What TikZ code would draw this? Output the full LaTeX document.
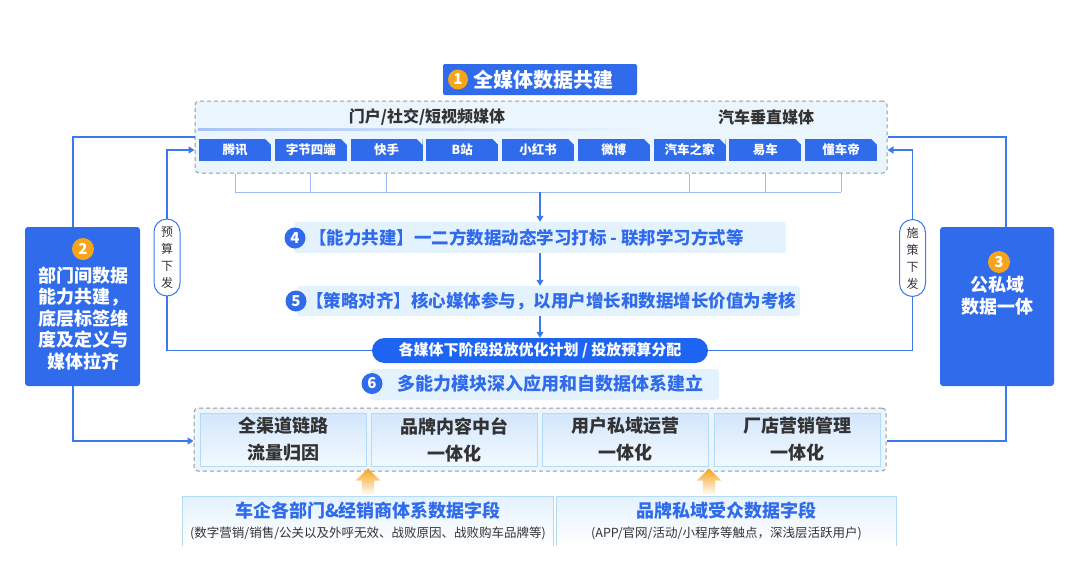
\documentclass[tikz,border=0pt]{standalone}
\usepackage{fontspec}
\setmainfont{Noto Sans CJK SC}
\usetikzlibrary{arrows.meta,shapes.arrows}

\definecolor{mainblue}{HTML}{2F6BEA}
\definecolor{pillblue}{HTML}{1D64F2}
\definecolor{linkblue}{HTML}{3C78EE}
\definecolor{busblue}{HTML}{9DBAF4}
\definecolor{lightbg}{HTML}{E4F2FE}
\definecolor{panelbg}{HTML}{EAF5FE}
\definecolor{modedge}{HTML}{B3DBF8}
\definecolor{numorange}{HTML}{F5A41C}
\definecolor{textdark}{HTML}{333333}
\definecolor{dashgray}{HTML}{999999}

\tikzset{
  panel/.style={draw=dashgray, dash pattern=on 4pt off 3pt, line width=1pt,
    fill=panelbg, rounded corners=4pt},
  titlebox/.style={fill=mainblue, rounded corners=2pt, minimum width=194pt,
    minimum height=31pt},
  titletext/.style={text=white, inner sep=0pt, font=\bfseries\fontsize{20}{24}\selectfont},
  numdot/.style={circle, fill=numorange, text=white, inner sep=0pt, minimum size=20pt,
    font=\bfseries\fontsize{15}{15}\selectfont},
  bluedot/.style={numdot, fill=mainblue, minimum size=21pt},
  headtext/.style={text=textdark, font=\bfseries\fontsize{16}{19}\selectfont},
  tab/.style={fill=mainblue, text=white, minimum width=72pt, minimum height=22pt,
    inner sep=0pt, font=\bfseries\fontsize{12.5}{15}\selectfont},
  capbox/.style={fill=lightbg, rounded corners=3pt, minimum height=31pt},
  captext/.style={text=mainblue, inner sep=0pt, anchor=west,
    font=\bfseries\fontsize{17.5}{21}\selectfont},
  pill/.style={fill=pillblue, text=white, rounded corners=12.5pt, minimum width=336pt,
    minimum height=25pt, font=\bfseries\fontsize{15}{18}\selectfont},
  sidebox/.style={fill=mainblue, rounded corners=3pt, minimum width=115pt,
    minimum height=159pt},
  sidetext/.style={text=white, align=center, inner sep=0pt,
    font=\bfseries\fontsize{18}{21.5}\selectfont},
  vlabel/.style={draw=linkblue, fill=white, line width=1pt, rounded corners=13pt,
    minimum width=26pt, minimum height=77pt, inner sep=0pt, align=center,
    text=textdark, font=\fontsize{12}{17}\selectfont},
  link/.style={draw=linkblue, line width=1.2pt},
  busline/.style={draw=busblue, line width=1pt},
  flow/.style={draw=linkblue, line width=1.2pt, -{Triangle[length=6pt,width=7pt]}},
  modbox/.style={top color=lightbg!90!linkblue, bottom color=panelbg!60!white,
    draw=modedge, line width=1pt, minimum width=166pt, minimum height=53pt,
    align=center, text=textdark, font=\bfseries\fontsize{18}{27}\selectfont},
  srcbox/.style={top color=lightbg, bottom color=white, minimum height=49pt},
  srctitle/.style={text=mainblue, inner sep=0pt, font=\bfseries\fontsize{18}{21}\selectfont},
  srcsub/.style={text=textdark, inner sep=0pt, font=\fontsize{12.5}{15}\selectfont},
  uparrow/.style={single arrow, shape border rotate=90, top color=numorange,
    bottom color=white, draw=none, inner sep=6pt, minimum height=27pt,
    single arrow head extend=6pt}
}

\begin{document}
\begin{tikzpicture}[x=1pt, y=-1pt]
\useasboundingbox (0,0) rectangle (1080,563);

% 1 all-media panel
\node[titlebox] (title) at (540,79.5) {};
\node[numdot] (n1) at (458,79.5) {1};
\node[titletext, anchor=west] (titletxt) at (473,79.5) {全媒体数据共建};

\node[panel, minimum width=692pt, minimum height=72pt] (media) at (541,137) {};
\node[headtext] (hdrA) at (427,117) {门户/社交/短视频媒体};
\node[headtext] (hdrB) at (766,117) {汽车垂直媒体};
\shade[left color=linkblue!45, middle color=linkblue!60, right color=panelbg]
  (198,128) rectangle (640,130);
\shade[left color=panelbg, middle color=linkblue!55, right color=panelbg]
  (655,128) rectangle (880,130);

\foreach \lbl [count=\i from 0] in {腾讯,字节四端,快手,B站,小红书,微博,汽车之家,易车,懂车帝} {
  \node[tab] (tab\i) at (235+75.75*\i,150) {\lbl};
  \fill[panelbg] ([xshift=-6pt]tab\i.north east) -- (tab\i.north east)
    -- ([yshift=-6pt]tab\i.north east) -- cycle;
}

% collecting lines
\coordinate (bus) at (540,192);
\draw[busline] (tab0 |- media.south) -- (tab0 |- bus) -- (tab8 |- bus);
\foreach \i in {1,2,6,7,8}
  \draw[busline] (tab\i |- media.south) -- (tab\i |- bus);

% 4, 5 and plan
\node[capbox, minimum width=492pt] (cap4) at (540,237.5) {};
\node[bluedot] (n4) at (295,238) {4};
\node[captext] (cap4txt) at (309,238) {【能力共建】一二方数据动态学习打标 - 联邦学习方式等};

\node[capbox, minimum width=503pt, minimum height=30pt] (cap5) at (548.5,301) {};
\node[bluedot] (n5) at (296,301) {5};
\node[captext] (cap5txt) at (306,301) {【策略对齐】核心媒体参与，以用户增长和数据增长价值为考核};

\node[pill] (plan) at (540,350.5) {各媒体下阶段投放优化计划 / 投放预算分配};

\draw[flow] (bus) -- (cap4.north);
\draw[flow] (cap4.south) -- (cap4.south |- cap5.north);
\draw[flow] (cap5.south -| plan) -- (plan.north);

% 2 and 3 side boxes
\node[sidebox] (dept) at (82.5,306.5) {};
\node[numdot, minimum size=22pt] (n2) at (83,249) {2};
\node[sidetext] (depttxt) at (83,318.5) {部门间数据\\能力共建，\\底层标签维\\度及定义与\\媒体拉齐};

\node[sidebox, minimum width=114pt] (pubpriv) at (997,306.5) {};
\node[numdot, minimum size=22pt] (n3) at (999,262) {3};
\node[sidetext] (pubprivtxt) at (997,295.5) {公私域\\数据一体};

% 6 and module panel
\node[capbox, minimum width=349pt] (cap6) at (544.5,384.5) {};
\node[bluedot] (n6) at (372,383.5) {6};
\node[captext, font=\bfseries\fontsize{18}{21}\selectfont] (cap6txt) at (397,384) {多能力模块深入应用和自数据体系建立};

\node[panel, minimum width=692pt, minimum height=63pt] (mods) at (540,439.5) {};
\node[modbox] (mod1) at (283,439.5) {全渠道链路\\流量归因};
\node[modbox] (mod2) at (454,439.5) {品牌内容中台\\一体化};
\node[modbox] (mod3) at (625.5,439.5) {用户私域运营\\一体化};
\node[modbox] (mod4) at (797,439.5) {厂店营销管理\\一体化};

% feedback lines
\coordinate (budgetpos) at (167,257.5);
\coordinate (tacticpos) at (912.5,258);
\draw[flow] (plan.west) -- (plan.west -| budgetpos) -- (budgetpos |- tab0) -- (tab0 -| media.west);
\draw[flow] (plan.east) -- (plan.east -| tacticpos) -- (tacticpos |- tab8) -- (tab8 -| media.east);
\node[vlabel] (budget) at (budgetpos) {预\\算\\下\\发};
\node[vlabel] (tactic) at (tacticpos) {施\\策\\下\\发};

\draw[link] ([xshift=-9.5pt]dept.north) |- (media.west);
\draw[flow] ([xshift=-9.5pt]dept.south) |- ([yshift=-1.5pt]mods.west);
\draw[link] ([xshift=9pt]pubpriv.north) |- (media.east);
\draw[link] ([xshift=9pt]pubpriv.south) |- ([yshift=-1.5pt]mods.east);

% data sources
\node[srcbox, minimum width=370pt] (srcA) at (368,521.5) {};
\node[srcbox, minimum width=339pt] (srcB) at (726.5,521.5) {};
\draw[modedge, line width=1pt] (srcA.south west) -- (srcA.north west) -- (srcA.north east) -- (srcA.south east);
\draw[modedge, line width=1pt] (srcB.south west) -- (srcB.north west) -- (srcB.north east) -- (srcB.south east);
\node[srctitle] (srcAt) at (368,511) {车企各部门\&经销商体系数据字段};
\node[srcsub] (srcAs) at (368,533) {(数字营销/销售/公关以及外呼无效、战败原因、战败购车品牌等)};
\node[srctitle] (srcBt) at (726.5,511) {品牌私域受众数据字段};
\node[srcsub] (srcBs) at (726.5,533) {(APP/官网/活动/小程序等触点，深浅层活跃用户)};

\node[uparrow] (upA) at (368,485) {};
\node[uparrow] (upB) at (709,485) {};
\end{tikzpicture}
\end{document}
